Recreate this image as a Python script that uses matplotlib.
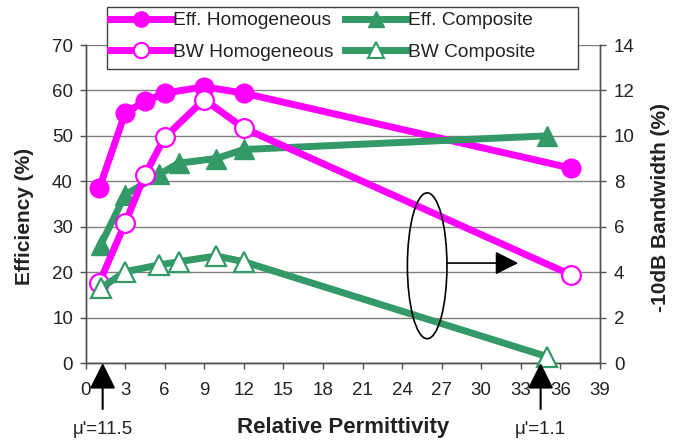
import matplotlib
matplotlib.use("Agg")
import matplotlib.pyplot as plt
from matplotlib.patches import Ellipse, Rectangle
from matplotlib.lines import Line2D

# ---- data ----
homog_x = [1.05, 3.0, 4.5, 6.0, 9.0, 12.0, 36.8]
eff_homog = [38.5, 55.0, 57.6, 59.4, 60.8, 59.4, 42.9]
bw_homog = [3.54, 6.15, 8.28, 9.93, 11.6, 10.34, 3.88]

comp_x = [1.15, 3.0, 5.6, 7.05, 9.9, 12.0, 35.0]
eff_comp = [26.0, 37.0, 41.5, 44.0, 45.0, 47.0, 50.0]
bw_comp = [3.29, 4.02, 4.32, 4.46, 4.71, 4.46, 0.28]

labels = ["Eff. Homogeneous", "BW Homogeneous", "Eff. Composite", "BW Composite"]
x_ticks = list(range(0, 40, 3))
y1_ticks = list(range(0, 80, 10))
y2_ticks = list(range(0, 16, 2))
mu_labels = ["\u03bc'=11.5", "\u03bc'=1.1"]
mu_x = [1.3, 34.5]

MAG = "#ff00ff"
GRN = "#339966"
FONT = "Liberation Sans"
W, H = 682, 443

plt.rcParams['font.family'] = [FONT, 'DejaVu Sans']

fig = plt.figure(figsize=(W / 100, H / 100), dpi=100)
L, R, T, B = 85.5, 600, 45, 363
ax1 = fig.add_axes([L / W, 1 - B / H, (R - L) / W, (B - T) / H])
ax2 = ax1.twinx()

ax1.set_xlim(0, 39)
ax1.set_ylim(0, 70)
ax2.set_ylim(0, 14)
ax1.set_xticks(x_ticks)
ax1.set_yticks(y1_ticks)
ax2.set_yticks(y2_ticks)

ax1.yaxis.grid(True, color="#808080", lw=1.0)
ax1.set_axisbelow(True)

TS = 13.5
for ax in (ax1, ax2):
    ax.spines['top'].set_visible(False)
    for s in ('left', 'right', 'bottom'):
        ax.spines[s].set_color('#505050')
        ax.spines[s].set_linewidth(1.0)
    ax.tick_params(colors='#505050', labelcolor='#222222', labelsize=TS,
                   length=4, width=1.0, direction='out')
ax1.tick_params(axis='x', pad=10)
ax1.tick_params(axis='y', pad=5)
ax2.tick_params(axis='y', pad=6)

lw = 5
ms_c = 13.5
ms_t = 14
l1, = ax1.plot(homog_x, eff_homog, color=MAG, lw=lw, marker='o', ms=ms_c,
               mfc=MAG, mec=MAG, zorder=3)
l3, = ax1.plot(comp_x, eff_comp, color=GRN, lw=lw, marker='^', ms=ms_t,
               mfc=GRN, mec=GRN, zorder=3)
l2, = ax2.plot(homog_x, bw_homog, color=MAG, lw=lw, marker='o', ms=ms_c,
               mfc='white', mec=MAG, mew=1.6, zorder=3)
l4, = ax2.plot(comp_x, bw_comp, color=GRN, lw=lw, marker='^', ms=ms_t,
               mfc='white', mec=GRN, mew=1.6, zorder=3, clip_on=False)

# ellipse + arrow annotation (efficiency-axis coordinates)
ell = Ellipse((25.9, 21.4), 3.0, 32.1, fill=False, ec='black', lw=1.2,
              transform=ax1.transData, zorder=5)
ax2.add_patch(ell)
ax2.annotate('', xy=(32.8, 22.0), xytext=(27.4, 22.0),
             xycoords=ax1.transData, textcoords=ax1.transData,
             arrowprops=dict(arrowstyle='-|>,head_length=0.95,head_width=0.48',
                             mutation_scale=15, lw=1.2, color='black',
                             shrinkA=0, shrinkB=0), zorder=6)

# bottom arrows and mu labels
for mx, ml in zip(mu_x, mu_labels):
    ax2.annotate('', xy=(mx, 0), xycoords=('data', 'axes fraction'),
                 xytext=(0, -46), textcoords='offset pixels',
                 arrowprops=dict(arrowstyle='-|>,head_length=0.8,head_width=0.4',
                                 mutation_scale=20, lw=1.5, color='black',
                                 shrinkA=0, shrinkB=0),
                 annotation_clip=False, zorder=6)
    ax2.annotate(ml, xy=(mx, 0), xycoords=('data', 'axes fraction'),
                 xytext=(0, -66), textcoords='offset pixels',
                 ha='center', va='center', fontsize=TS, color='#222222',
                 annotation_clip=False)

# axis labels
fig.text(343 / W, 1 - 427 / H, "Relative Permittivity", ha='center', va='center',
         fontsize=16, fontweight='bold', color='#222222')
fig.text(25 / W, 1 - 216 / H, "Efficiency (%)", ha='center', va='center',
         rotation=90, fontsize=15, fontweight='bold', color='#222222')
fig.text(660 / W, 1 - 208 / H, "-10dB Bandwidth (%)", ha='center', va='center',
         rotation=90, fontsize=15, fontweight='bold', color='#222222')

# legend box
box = Rectangle((107 / W, 1 - 69 / H), (578 - 107) / W, (69 - 7) / H,
                transform=fig.transFigure, fc='white', ec='#404040', lw=1.0,
                zorder=5)
fig.add_artist(box)
hands = [
    Line2D([], [], color=MAG, lw=lw, marker='o', ms=11, mfc=MAG, mec=MAG),
    Line2D([], [], color=MAG, lw=lw, marker='o', ms=11, mfc='white', mec=MAG, mew=1.5),
    Line2D([], [], color=GRN, lw=lw, marker='^', ms=11, mfc=GRN, mec=GRN),
    Line2D([], [], color=GRN, lw=lw, marker='^', ms=11, mfc='white', mec=GRN, mew=1.5),
]
leg = fig.legend(hands, labels, ncol=2, loc='upper left',
                 bbox_to_anchor=(110 / W, 1 - 12 / H), frameon=False,
                 borderpad=0, borderaxespad=0, handlelength=3.2,
                 handletextpad=0.1, columnspacing=0.6, labelspacing=0.75,
                 fontsize=13.8, numpoints=1)
for t in leg.get_texts():
    t.set_color('#222222')
leg.set_zorder(6)

fig.savefig("out.png", dpi=100)
